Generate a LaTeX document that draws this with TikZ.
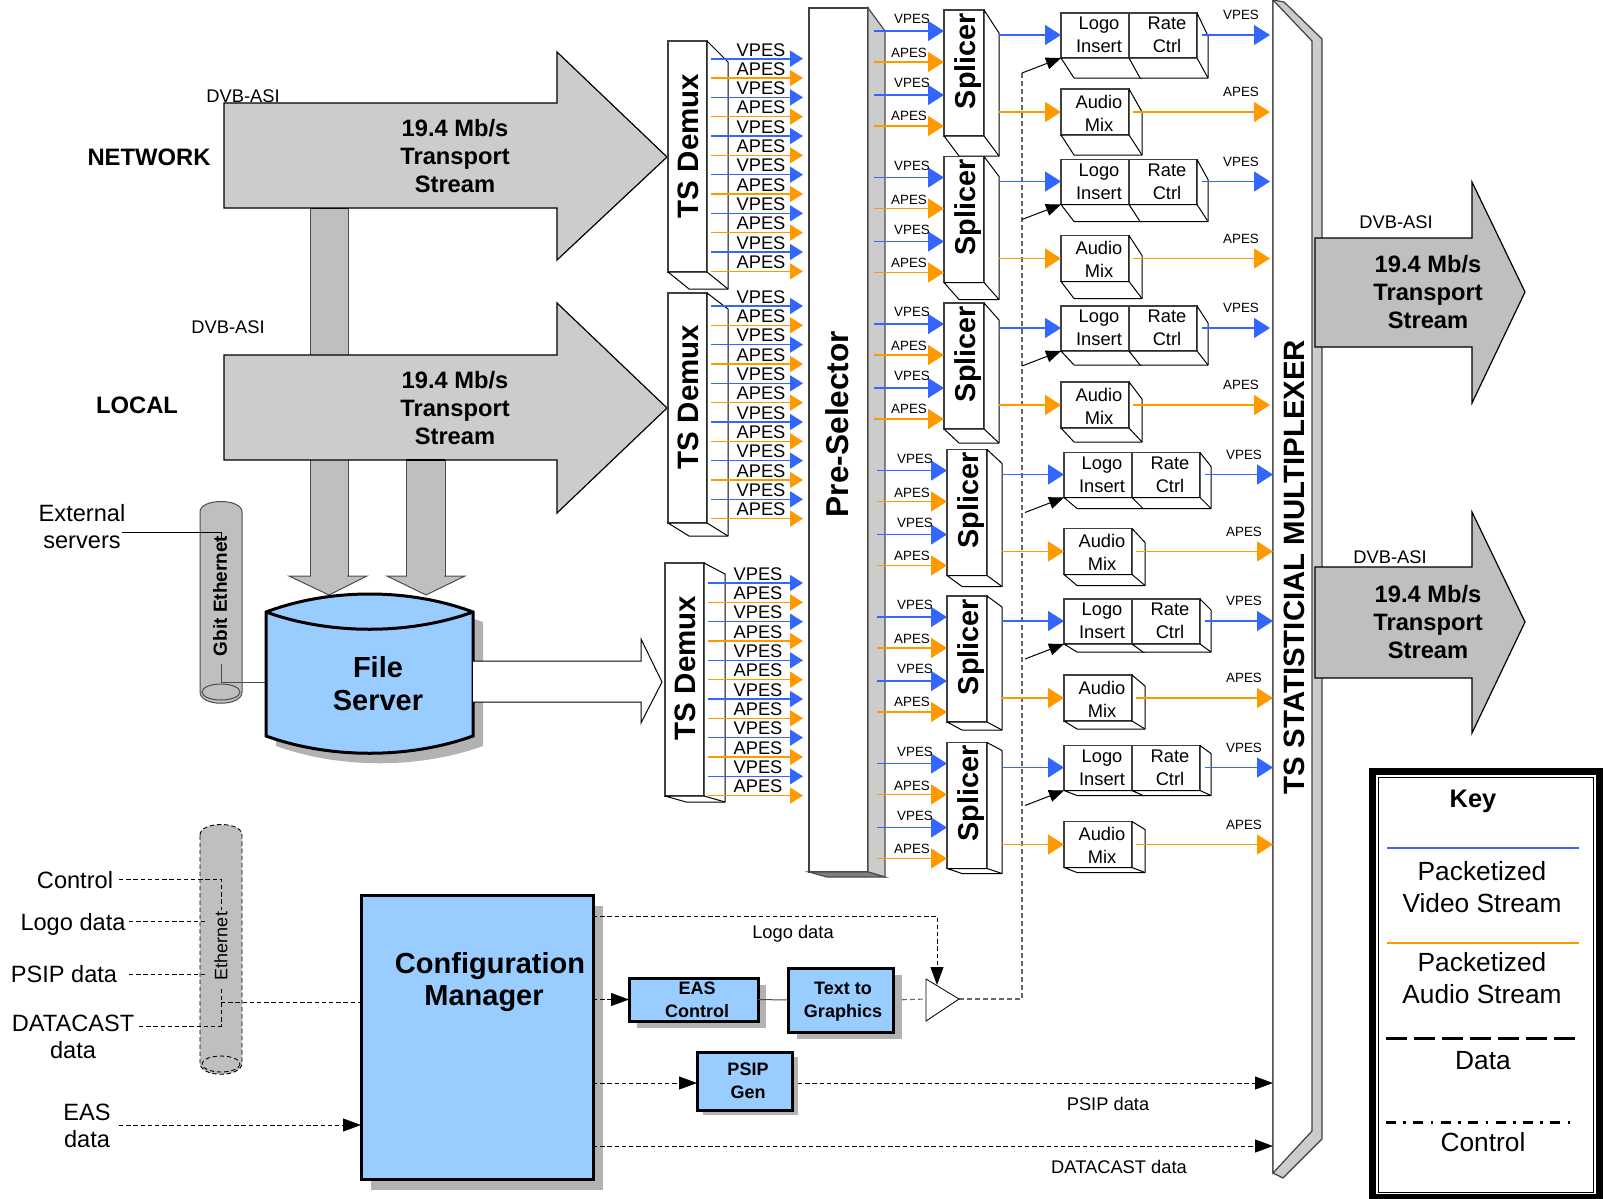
\documentclass[tikz,border=0pt]{standalone}
\usepackage{fontspec}
\setmainfont{Liberation Sans}
\usepackage{xcolor}
\usepackage{tikz}
\usetikzlibrary{arrows.meta}
\definecolor{vesblue}{HTML}{3366FF}
\definecolor{aesorange}{HTML}{FF9900}
\definecolor{srvblue}{HTML}{99CCFF}
\definecolor{facegray}{HTML}{CCCCCC}
\definecolor{pipegray}{HTML}{BFBFBF}
\definecolor{shadegray}{HTML}{B2B2B2}
\newcommand{\pxu}{0.5pt}
\newcommand{\solidbox}[8]{%
  \node[frontbox, anchor=north west, minimum width=#4*\pxu, minimum height=#5*\pxu] (#1) at (#2,#3) {};
  \draw[sideface] (#1.north east) -- ({#2+#4+#6},{#3+#7}) -- ({#2+#4+#6},{#3+#5+#8}) -- ({#2+#6},{#3+#5+#8})
        -- (#1.south west) -- (#1.south east) -- cycle;
  \draw[sideface] (#1.south east) -- ({#2+#4+#6},{#3+#5+#8});
}
\newcommand{\blueblock}[7]{%
  \fill[shadegray] ({#2+#6},{#3+#7}) rectangle ({#2+#4+#6},{#3+#5+#7});
  \node[blueface, anchor=north west, minimum width=#4*\pxu, minimum height=#5*\pxu] (#1) at (#2,#3) {};
}
\begin{document}
\begin{tikzpicture}[x=0.5pt, y=-0.5pt,
  tinyfont/.style={font=\fontsize{6.7}{8}\selectfont},
  esfont/.style={font=\fontsize{9.15}{11.5}\selectfont, align=center},
  sidefont/.style={font=\fontsize{11.8}{13.5}\selectfont, align=center},
  keyfont/.style={font=\fontsize{13.15}{16}\selectfont, align=center},
  flowfont/.style={font=\bfseries\fontsize{11.85}{14}\selectfont, align=center},
  blockfont/.style={font=\bfseries\fontsize{9}{11.5}\selectfont, align=center},
  frontbox/.style={draw=black!75, fill=white, line width=0.6pt, inner sep=0pt, outer sep=0pt},
  sideface/.style={draw=black, fill=white, line width=0.5pt, line join=round},
  blueface/.style={draw=black, fill=srvblue, line width=1.5pt, inner sep=0pt, outer sep=0pt},
  bigflow/.style={draw=black, fill=facegray, line width=0.6pt},
  outflow/.style={draw=black, fill=pipegray, line width=0.6pt},
  pipe/.style={draw=black!70, fill=pipegray, line width=0.5pt},
  vesin/.style={draw=vesblue, line width=0.8pt, -{Triangle[length=8pt,width=10pt]}},
  aesin/.style={draw=aesorange, line width=0.8pt, -{Triangle[length=8pt,width=10pt]}},
  vesdm/.style={draw=vesblue, line width=0.8pt, shorten >=3pt, -{Triangle[length=6.5pt,width=8pt]}},
  aesdm/.style={draw=aesorange, line width=0.8pt, shorten >=3pt, -{Triangle[length=6.5pt,width=8pt]}},
  ctrl/.style={draw=black, line width=0.45pt, dash pattern=on 2.2pt off 1.4pt},
  ctrlto/.style={ctrl, -{Triangle[length=9pt,width=6.5pt]}},
  bus/.style={draw=black!60, line width=0.55pt, dash pattern=on 2.4pt off 1.6pt}]
  \useasboundingbox (0,0) rectangle (1606,1199);

  \draw[pipe] (310,208) rectangle (348,576);
  \draw[pipe] (310,576) -- (348,576) -- (367,576) -- (329,595) -- (289,576) -- cycle;
  \fill[pipegray] (311,570) rectangle (347,577);
  \draw[pipe] (406,460) rectangle (445,576);
  \draw[pipe] (406,576) -- (445,576) -- (465,576) -- (426,595) -- (387,576) -- cycle;
  \fill[pipegray] (407,570) rectangle (444,577);
  \draw[line width=1pt] (310,208) -- (348,208);
  \draw[bigflow] (224,103) -- (557,103) -- (557,52) -- (667,157) -- (557,260) -- (557,208) -- (224,208) -- cycle;
  \draw[bigflow] (224,355) -- (557,355) -- (557,303) -- (667,408) -- (557,513) -- (557,460) -- (224,460) -- cycle;
  \draw[line width=1pt] (406,460) -- (445,460);
  \node[flowfont] (nettxt) at (455,156) {19.4 Mb/s\\Transport\\Stream};
  \node[flowfont] (loctxt) at (455,408) {19.4 Mb/s\\Transport\\Stream};
  \node[font=\bfseries\fontsize{11.9}{14}\selectfont] (netlab) at (149,157) {NETWORK};
  \node[font=\bfseries\fontsize{11.9}{14}\selectfont] (loclab) at (137,405) {LOCAL};
  \node[esfont] (asinet) at (243,96) {DVB-ASI};
  \node[esfont] (asiloc) at (228,327) {DVB-ASI};

  \draw[pipe] (200,512) .. controls (200,498) and (242,498) .. (242,512) -- (242,692)
        .. controls (242,707) and (200,707) .. (200,692) -- cycle;
  \draw[draw=black!70, line width=0.5pt] (221,692) ellipse [x radius=19, y radius=8];
  \node[font=\bfseries\fontsize{9.5}{11}\selectfont, rotate=90] (gbittxt) at (220,596) {Gbit Ethernet};
  \node[sidefont] (extlab) at (82,527) {External\\servers};
  \coordinate (extout) at (122,532);
  \coordinate (gbittop) at (221,540);
  \coordinate (gbitlow) at (221,664);
  \coordinate (fswest) at (266,682);
  \draw[line width=0.5pt] (extout) -| (gbittop);
  \draw[draw=black!70, line width=0.5pt] (gbitlow) |- (fswest);

  \fill[shadegray, shift={(10,10)}] (266,612) .. controls (330,588) and (409,588) .. (473,612) -- (473,736)
        .. controls (409,759) and (330,759) .. (266,736) -- cycle;
  \draw[blueface] (266,612) .. controls (330,588) and (409,588) .. (473,612) -- (473,736)
        .. controls (409,759) and (330,759) .. (266,736) -- cycle;
  \draw[line width=1.5pt] (266,612) .. controls (330,635) and (409,635) .. (473,612);
  \node[font=\bfseries\fontsize{14.5}{16.5}\selectfont, align=center] (fstxt) at (378,684) {File\\Server};
  \draw[draw=black, fill=white, line width=0.5pt] (473,661) -- (641,661) -- (641,639) -- (662,682) -- (641,723) -- (641,702) -- (473,702);

  \node[frontbox, anchor=north west, minimum width=59*\pxu, minimum height=864*\pxu] (pre) at (809,8) {};
  \draw[draw=black!70, fill=facegray, line width=0.6pt] (pre.north east) -- (885,31) -- (885,877) -- (pre.south east) -- cycle;
  \draw[draw=black!70, fill=black!50, line width=0.6pt] (pre.south west) -- (827,877) -- (885,877) -- (pre.south east) -- cycle;
  \node[font=\bfseries\fontsize{15.8}{18}\selectfont, rotate=90] (pretxt) at (837,424) {Pre-Selector};

  \solidbox{dmx1}{668}{41}{39}{231}{21}{21}{17}
  \solidbox{dmx2}{668}{293}{39}{230}{21}{16}{13}
  \solidbox{dmx3}{665}{563}{39}{233}{21}{11}{6}
  \foreach \dm/\tx/\ty in {1/688/146, 2/688/397, 3/685/668}
    \node[font=\bfseries\fontsize{14.75}{17}\selectfont, rotate=90] (dmxtxt\dm) at (\tx,\ty) {TS Demux};
  \foreach \dm/\dx/\ys in {1/0/58.7, 2/0/306, 3/-3/583} {
    \foreach \i/\sty/\txt in {0/vesdm/VPES, 1/aesdm/APES, 2/vesdm/VPES, 3/aesdm/APES, 4/vesdm/VPES, 5/aesdm/APES,
                              6/vesdm/VPES, 7/aesdm/APES, 8/vesdm/VPES, 9/aesdm/APES, 10/vesdm/VPES, 11/aesdm/APES} {
      \coordinate (dmo\dm\i) at ({711+\dx},{\ys+19.33*\i});
      \draw[\sty] (dmo\dm\i) -- (pre.west |- dmo\dm\i);
      \node[esfont] (dmolab\dm\i) at ({761+\dx},{\ys+19.33*\i-9}) {\txt};
    }
  }

  \draw[draw=black!75, fill=facegray, line width=0.6pt] (1273,0) -- (1284,2) -- (1322,39) -- (1322,1139) -- (1283,1178) -- (1273,1173) -- cycle;
  \draw[draw=black!75, fill=white, line width=0.6pt] (1273,0) -- (1312,41) -- (1312,1131) -- (1273,1173) -- cycle;
  \node[font=\bfseries\fontsize{14.7}{17}\selectfont, rotate=90] (muxtxt) at (1294,567) {TS STATISTICIAL MULTIPLEXER};

  \coordinate (amptip) at (959,999);
  \coordinate (ampin) at (926,999);
  \coordinate (ampnotch) at (937,985);
  \coordinate (logotap) at (1022,73);
  \draw[bus] (amptip) -| (logotap);

  \foreach \k/\dx in {0/0,1/0,2/0,3/3,4/3,5/3} {
    \begin{scope}[shift={(\dx,146.5*\k)}]
      \pgfmathsetmacro\tdy{23-3*\k}
      \pgfmathsetmacro\bdy{20-3*\k}
      \solidbox{spl\k}{944}{10}{40}{126}{15}{\tdy}{\bdy}
      \node[font=\bfseries\fontsize{14.4}{17}\selectfont, rotate=90] (spltxt\k) at (968,61) {Splicer};
      \foreach \n/\yy/\ly/\lx/\sty/\txt in {a/31/19/912/vesin/VPES, b/62/53/909/aesin/APES,
                                            c/95/83/912/vesin/VPES, d/126/116/909/aesin/APES} {
        \coordinate (sel\k\n) at (874,\yy);
        \draw[\sty] (sel\k\n) -- (spl\k.west |- sel\k\n);
        \node[tinyfont] (seltxt\k\n) at (\lx,\ly) {\txt};
      }
      \solidbox{lgo\k}{1061}{13}{68}{45}{13}{\tdy}{\bdy}
      \solidbox{rat\k}{1129}{13}{68}{45}{11}{\tdy}{\bdy}
      \solidbox{mix\k}{1061}{89}{68}{46}{13}{\tdy}{\bdy}
      \node[esfont] (lgotxt\k) at (1099,35) {Logo\\Insert};
      \node[esfont] (rattxt\k) at (1167,35) {Rate\\Ctrl};
      \node[esfont] (mixtxt\k) at (1099,113) {Audio\\Mix};
      \coordinate (splv\k) at (999,35);
      \coordinate (spla\k) at (999,112);
      \coordinate (ratv\k) at (1202,35);
      \coordinate (mixa\k) at (1133,112);
      \coordinate (outv\k) at (1270,35);
      \coordinate (outa\k) at (1270,112);
      \coordinate (tap\k) at (1022,73);
      \draw[vesin] (splv\k) -- (lgo\k.west |- splv\k);
      \draw[aesin] (spla\k) -- (mix\k.west |- spla\k);
      \draw[vesin] (ratv\k) -- (outv\k);
      \draw[aesin] (mixa\k) -- (outa\k);
      \node[tinyfont] (vouttxt\k) at (1241,15) {VPES};
      \node[tinyfont] (aouttxt\k) at (1241,92) {APES};
      \draw[line width=0.5pt, -{Triangle[length=7.5pt,width=6pt]}] (tap\k) -- (lgo\k.south west);
    \end{scope}
  }

  \draw[outflow] (1315,238) -- (1472,238) -- (1472,182) -- (1525,292) -- (1472,403) -- (1472,347) -- (1315,347) -- cycle;
  \draw[outflow] (1315,567) -- (1472,567) -- (1472,512) -- (1525,622) -- (1472,733) -- (1472,678) -- (1315,678) -- cycle;
  \node[flowfont] (outtxt1) at (1428,292) {19.4 Mb/s\\Transport\\Stream};
  \node[flowfont] (outtxt2) at (1428,622) {19.4 Mb/s\\Transport\\Stream};
  \node[esfont] (asiout1) at (1396,222) {DVB-ASI};
  \node[esfont] (asiout2) at (1390,557) {DVB-ASI};

  \draw[ctrl, fill=pipegray] (200,835) .. controls (200,821) and (242,821) .. (242,835) -- (242,1063)
        .. controls (242,1078) and (200,1078) .. (200,1063) -- cycle;
  \draw[ctrl] (221,1064) ellipse [x radius=19, y radius=8];
  \node[font=\fontsize{9}{11}\selectfont, rotate=90] (ethtxt) at (221,946) {Ethernet};
  \node[sidefont] (ctllab) at (75,880) {Control};
  \node[sidefont] (logolab) at (73,924) {Logo data};
  \node[sidefont] (psiplab) at (64,974) {PSIP data};
  \node[sidefont] (dcastlab) at (73,1037) {DATACAST\\data};
  \node[sidefont] (easlab) at (87,1126) {EAS\\data};
  \coordinate (ctlout) at (119,879);
  \coordinate (logoout) at (129,921);
  \coordinate (psipout) at (129,974);
  \coordinate (dcastout) at (139,1026);
  \coordinate (easout) at (119,1125);
  \coordinate (ethctl) at (221,910);
  \coordinate (ethlogo) at (207,921);
  \coordinate (ethpsip) at (207,974);
  \coordinate (ethup) at (221,989);
  \coordinate (ethtap) at (221,1002);

  \blueblock{cfg}{361}{895}{232}{284}{10}{11}
  \node[font=\bfseries\fontsize{14.5}{16}\selectfont] (cfgtxta) at (490,966) {Configuration};
  \node[font=\bfseries\fontsize{14.5}{16}\selectfont] (cfgtxtb) at (484,999) {Manager};
  \blueblock{eas}{629}{978}{129}{43}{8}{7}
  \blueblock{ttg}{788}{968}{105}{64}{9}{7}
  \blueblock{psip}{697}{1052}{95}{58}{6}{5}
  \node[blockfont] (eastxt) at (697,999.5) {EAS\\Control};
  \node[blockfont] (ttgtxt) at (843,1001.5) {Text to\\Graphics};
  \node[blockfont] (psiptxt) at (748,1081) {PSIP\\Gen};

  \draw[ctrl] (ctlout) -| (ethctl);
  \draw[ctrl] (logoout) -- (ethlogo);
  \draw[ctrl] (psipout) -- (ethpsip);
  \draw[ctrl] (dcastout) -| (ethup);
  \draw[ctrl] (ethtap) -- (cfg.west |- ethtap);
  \draw[ctrlto] (easout) -- (cfg.west |- easout);

  \coordinate (muxedge) at (1273,0);
  \coordinate (logoin) at (593,916);
  \coordinate (psipin) at (593,1083);
  \coordinate (psipfr) at (798,1083);
  \coordinate (dcastin) at (593,1146);
  \draw[ctrlto] (cfg.east |- eas.west) -- (eas.west);
  \draw[draw=black!70, line width=0.5pt] (eas.east) -- (ttg.west);
  \draw[bus, shorten <=4.5pt] (ttg.east) -- (ampin);
  \draw[draw=black, fill=white, line width=0.4pt] (926,979) -- (amptip) -- (926,1021) -- cycle;
  \draw[ctrlto] (logoin) -| (ampnotch);
  \draw[ctrlto] (psipin) -- (psip.west |- psipin);
  \draw[ctrlto] (psipfr) -- (muxedge |- psipfr);
  \draw[ctrlto] (dcastin) -- (muxedge |- dcastin);
  \node[esfont] (logotxt) at (793,934) {Logo data};
  \node[esfont] (psiptx2) at (1108,1104) {PSIP data};
  \node[esfont] (dcasttxt) at (1119,1167) {DATACAST data};

  \draw[line width=3.5pt] (1372.5,771.5) rectangle (1599,1197);
  \draw[line width=0.5pt] (1378,777) rectangle (1593,1192);
  \node[font=\bfseries\fontsize{12.7}{15}\selectfont] (keytxt) at (1473,801) {Key};
  \draw[draw=vesblue, line width=1pt] (1387,848) -- (1579,848);
  \node[keyfont] (keyvid) at (1482,887) {Packetized\\Video Stream};
  \draw[draw=aesorange, line width=1pt] (1387,943) -- (1579,943);
  \node[keyfont] (keyaud) at (1482,978) {Packetized\\Audio Stream};
  \draw[line width=1.5pt, dash pattern=on 10.7pt off 3.3pt] (1386,1038) -- (1577,1038);
  \node[keyfont] (keydat) at (1483,1061) {Data};
  \draw[line width=1.5pt, dash pattern=on 5pt off 3.7pt on 1.3pt off 3.7pt] (1386,1122) -- (1577,1122);
  \node[keyfont] (keyctl) at (1483,1142) {Control};
\end{tikzpicture}
\end{document}
